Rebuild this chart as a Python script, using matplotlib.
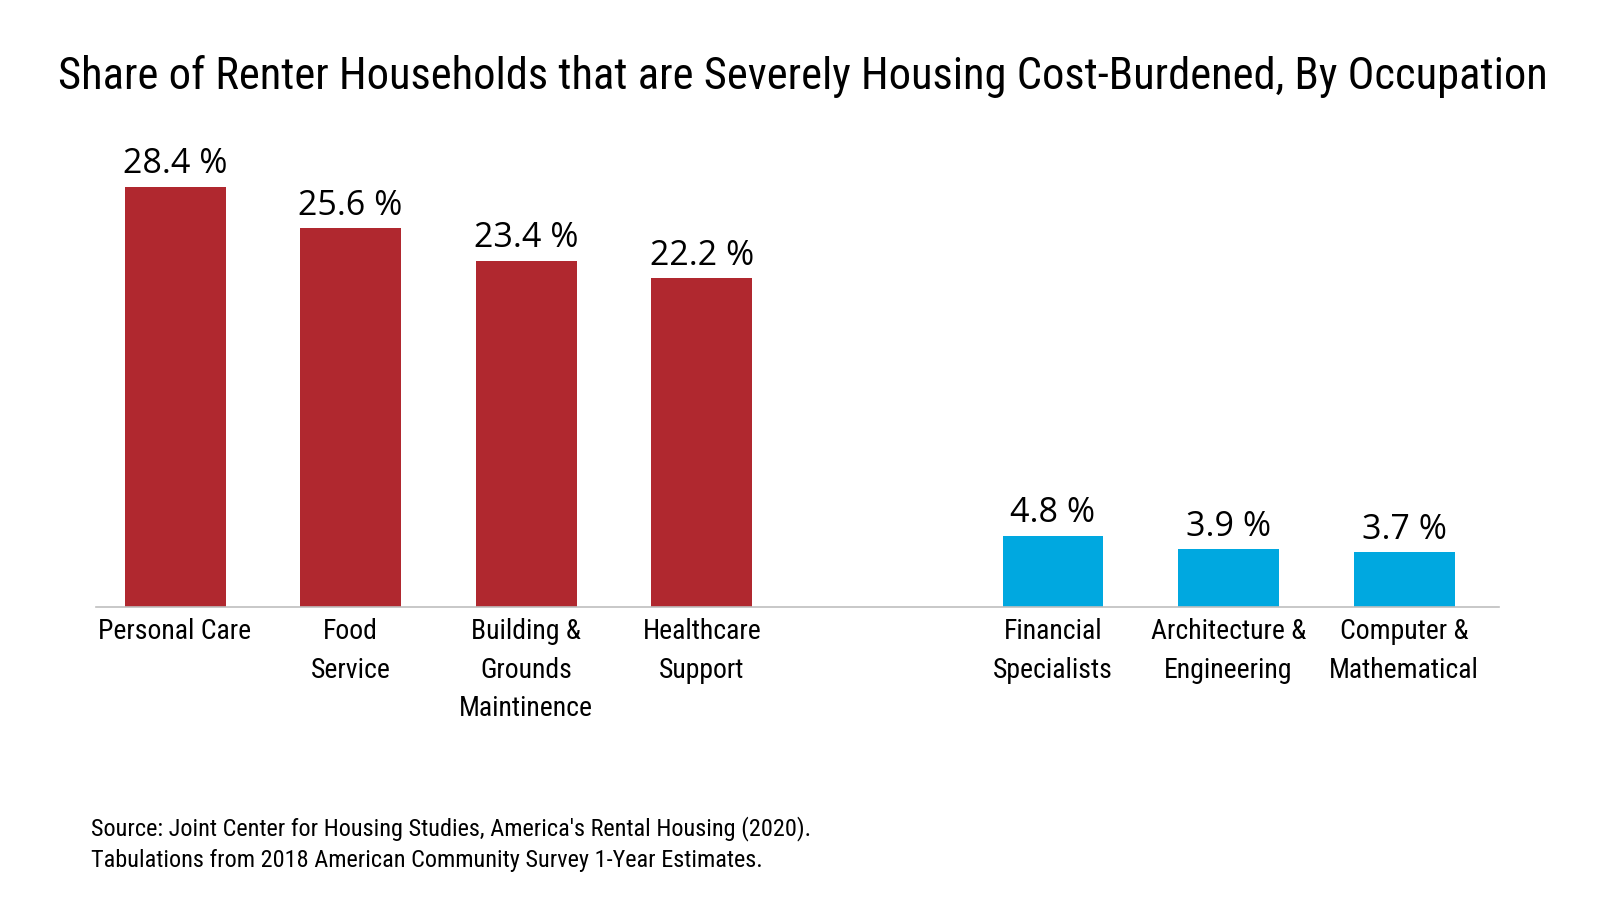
import matplotlib
matplotlib.use("Agg")
import matplotlib.pyplot as plt

categories = ["Personal Care", "Food\nService", "Building &\nGrounds\nMaintinence",
              "Healthcare\nSupport", "Financial\nSpecialists", "Architecture &\nEngineering",
              "Computer &\nMathematical"]
values = [28.4, 25.6, 23.4, 22.2, 4.8, 3.9, 3.7]
positions = [0, 1, 2, 3, 5, 6, 7]
colors = ["#B0282F"] * 4 + ["#00A8E0"] * 3
title = "Share of Renter Households that are Severely Housing Cost-Burdened, By Occupation"
source = ("Source: Joint Center for Housing Studies, America's Rental Housing (2020).\n"
          "Tabulations from 2018 American Community Survey 1-Year Estimates.")

narrow = ["Roboto Condensed", "Sofia Sans Condensed", "DejaVu Sans"]
valfont = ["Open Sans", "Lato", "DejaVu Sans"]

fig = plt.figure(figsize=(16, 9), dpi=100)
# baseline at 607px, top at 150px
ax = fig.add_axes([96/1600, 1 - 607/900, (1499-96)/1600, (607-150)/900])
bars = ax.bar(positions, values, width=0.575, color=colors, zorder=2)
ax.set_xlim(-0.45, 7.54)
ax.set_ylim(0, (607-150)/14.8)
for s in ["top", "right", "left"]:
    ax.spines[s].set_visible(False)
ax.spines["bottom"].set_color("#BFBFBF")
ax.spines["bottom"].set_linewidth(1.2)
ax.set_yticks([])
ax.set_xticks(positions)
ax.set_xticklabels(categories, fontsize=20, family=narrow, fontweight="normal", linespacing=1.55)
ax.tick_params(axis="x", length=0, pad=8)

for p, v in zip(positions, values):
    ax.annotate(f"{v} %", (p, v), xytext=(0, 4), textcoords="offset points",
                ha="center", va="bottom", fontsize=24.5, family=valfont,
                fontweight="normal", color="black")

fig.text(803/1600, 1 - 77/900, title, ha="center", va="center", fontsize=32,
         family=narrow, fontweight="normal")
fig.text(91/1600, 1 - 844/900, source, ha="left", va="center", fontsize=17.5,
         family=narrow, fontweight="normal", linespacing=1.45)

fig.savefig("out.png", dpi=100)
